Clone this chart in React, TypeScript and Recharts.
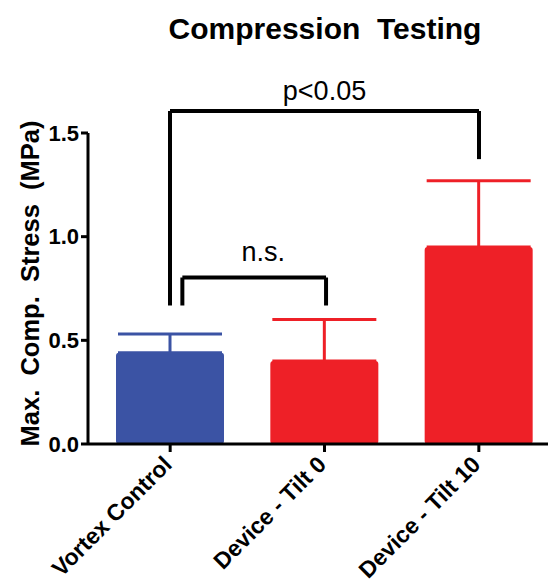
import React from "react";
import {
  ComposedChart,
  Bar,
  Cell,
  ErrorBar,
  XAxis,
  YAxis,
  ReferenceLine,
} from "recharts";

const categories = ["Vortex Control", "Device - Tilt 0", "Device - Tilt 10"];
const categoryIndex = [0, 1, 2];
const means = [0.44, 0.4, 0.95];
const sds = [0.09, 0.2, 0.32];
const groups = ["control", "device", "device"];
const yTicks = [0, 0.5, 1.0, 1.5];

// significance brackets (x in category index units, y in MPa)
const bracketLabels = ["p<0.05", "n.s."];
const bracketLeftX = [0, 0.08];
const bracketRightX = [2, 1.01];
const bracketTopY = [1.606, 0.803];
const bracketLeftEndY = [0.668, 0.668];
const bracketRightEndY = [1.374, 0.668];

const BLUE = "#3B53A4";
const RED = "#EE2027";
const FONT = "'Liberation Sans', Arial, sans-serif";

const data = categories.map((name, i) => ({
  name,
  idx: categoryIndex[i],
  mean: means[i],
  controlErr: groups[i] === "control" ? [0, sds[i]] : undefined,
  deviceErr: groups[i] === "device" ? [0, sds[i]] : undefined,
}));

const CategoryTick = (props: any) => {
  const { x, y, payload } = props;
  return (
    <g transform={`translate(${x + 3},${y + 12})`}>
      <text
        textAnchor="end"
        transform="rotate(-45)"
        fontFamily={FONT}
        fontWeight="bold"
        fontSize={23}
        fill="#000"
      >
        {payload.value}
      </text>
    </g>
  );
};

const YLabel = (props: any) => {
  const { viewBox } = props;
  const cy = viewBox.y + viewBox.height / 2 - 5;
  return (
    <text
      x={22}
      y={cy}
      transform={`rotate(-90, 22, ${cy})`}
      textAnchor="middle"
      dominantBaseline="central"
      fontFamily={FONT}
      fontWeight="bold"
      fontSize={25.5}
      fill="#000"
      style={{ whiteSpace: "pre" }}
    >
      {"Max.  Comp.  Stress  (MPa)"}
    </text>
  );
};

const labelOffsets = [11, 17];
const labelDx = [0, 9];

export default function App() {
  return (
    <div style={{ position: "relative", width: 548, height: 574 }}>
      <div
        style={{
          position: "absolute",
          left: 117,
          top: 6,
          width: 400,
          textAlign: "center",
          fontFamily: FONT,
          fontWeight: "bold",
          fontSize: 30,
          lineHeight: "30px",
          whiteSpace: "pre",
          color: "#000",
        }}
      >
        {"Compression  Testing"}
      </div>
      <ComposedChart
        width={548}
        height={574}
        data={data}
        margin={{ top: 125, right: 0, bottom: 0, left: 0 }}
      >
        <XAxis
          dataKey="name"
          height={138}
          padding={{ left: 5, right: 0 }}
          interval={0}
          tick={<CategoryTick />}
          tickSize={8}
          axisLine={{ stroke: "#000", strokeWidth: 3 }}
          tickLine={{ stroke: "#000", strokeWidth: 3 }}
        />
        <XAxis
          xAxisId="num"
          dataKey="idx"
          type="number"
          domain={[0, 2]}
          padding={{ left: 82, right: 77 }}
          allowDataOverflow
          hide
        />
        <YAxis
          width={80}
          domain={[0, 1.5]}
          ticks={yTicks}
          tickFormatter={(v: number) => v.toFixed(1)}
          tickSize={7}
          tickMargin={2}
          tick={{ fontFamily: FONT, fontWeight: "bold", fontSize: 22, fill: "#000" }}
          axisLine={{ stroke: "#000", strokeWidth: 3 }}
          tickLine={{ stroke: "#000", strokeWidth: 3 }}
          label={<YLabel />}
        />
        <Bar dataKey="mean" barSize={108} radius={3} isAnimationActive={false}>
          {data.map((d, i) => (
            <Cell key={d.name} fill={groups[i] === "control" ? BLUE : RED} />
          ))}
          <ErrorBar
            dataKey="controlErr"
            width={52}
            strokeWidth={3}
            stroke={BLUE}
            isAnimationActive={false}
          />
          <ErrorBar
            dataKey="deviceErr"
            width={52}
            strokeWidth={3}
            stroke={RED}
            isAnimationActive={false}
          />
        </Bar>
        {bracketLabels.map((label, i) => (
          <ReferenceLine
            key={`top-${label}`}
            xAxisId="num"
            ifOverflow="visible"
            stroke="#000"
            strokeWidth={4}
            segment={[
              { x: bracketLeftX[i], y: bracketTopY[i] },
              { x: bracketRightX[i], y: bracketTopY[i] },
            ]}
            label={{
              value: label,
              position: "top",
              offset: labelOffsets[i],
              dx: labelDx[i],
              fontFamily: FONT,
              fontSize: 27,
              fill: "#000",
            }}
          />
        ))}
        {bracketLabels.map((label, i) => (
          <ReferenceLine
            key={`left-${label}`}
            xAxisId="num"
            ifOverflow="visible"
            stroke="#000"
            strokeWidth={4}
            segment={[
              { x: bracketLeftX[i], y: bracketTopY[i] },
              { x: bracketLeftX[i], y: bracketLeftEndY[i] },
            ]}
          />
        ))}
        {bracketLabels.map((label, i) => (
          <ReferenceLine
            key={`right-${label}`}
            xAxisId="num"
            ifOverflow="visible"
            stroke="#000"
            strokeWidth={4}
            segment={[
              { x: bracketRightX[i], y: bracketTopY[i] },
              { x: bracketRightX[i], y: bracketRightEndY[i] },
            ]}
          />
        ))}
      </ComposedChart>
    </div>
  );
}
